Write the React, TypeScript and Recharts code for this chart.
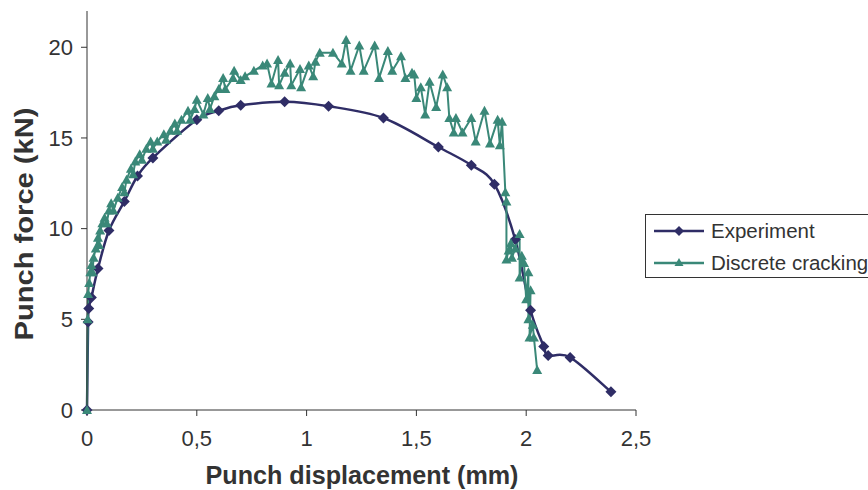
import React from 'react'
import { LineChart, Line, XAxis, YAxis } from 'recharts'

// --- Data ---

const experimentX = [0, 0.005, 0.008, 0.02, 0.05, 0.1, 0.17, 0.23, 0.3, 0.5, 0.6, 0.7, 0.9, 1.1, 1.35, 1.6, 1.75, 1.855, 1.95, 2.02, 2.08, 2.1, 2.2, 2.386]
const experimentY = [0, 4.85, 5.6, 6.2, 7.8, 9.9, 11.5, 12.9, 13.9, 16.0, 16.5, 16.8, 17.0, 16.75, 16.1, 14.5, 13.5, 12.45, 9.4, 5.5, 3.5, 3.0, 2.9, 1.0]

const crackingX = [
  0, 0.003, 0.005, 0.01, 0.015, 0.02, 0.025, 0.03, 0.04, 0.05, 0.055, 0.06, 0.07, 0.08, 0.09,
  0.1, 0.11, 0.12, 0.14, 0.16, 0.17, 0.18, 0.2, 0.21, 0.22, 0.24, 0.25, 0.27, 0.29, 0.3,
  0.32, 0.35, 0.36, 0.38, 0.4, 0.41, 0.43, 0.46, 0.47, 0.49, 0.5, 0.53, 0.55, 0.56, 0.58,
  0.6, 0.62, 0.63, 0.665, 0.67, 0.7, 0.72, 0.76, 0.8, 0.82, 0.84, 0.87, 0.875, 0.9, 0.925,
  0.93, 0.97, 0.975, 1.01, 1.03, 1.04, 1.06, 1.12, 1.16, 1.18, 1.2, 1.24, 1.26, 1.31, 1.33,
  1.37, 1.39, 1.43, 1.45, 1.48, 1.49, 1.5, 1.52, 1.54, 1.56, 1.59, 1.62, 1.64, 1.65, 1.67,
  1.68, 1.71, 1.75, 1.77, 1.81, 1.835, 1.87, 1.88, 1.89, 1.905, 1.91, 1.91, 1.92, 1.93, 1.935,
  1.95, 1.97, 1.97, 1.98, 1.99, 2.0, 2.01, 2.01, 2.02, 2.015, 2.03, 2.035, 2.05,
]
const crackingY = [
  0, 5.0, 6.4, 7.0, 7.6, 8.0, 7.6, 8.4, 8.9, 9.5, 9.1, 9.9, 10.3, 10.6, 10.3,
  11.0, 11.4, 11.0, 11.7, 12.3, 12.0, 12.7, 13.3, 13.0, 13.7, 14.1, 13.8, 14.4, 14.8, 14.4,
  14.8, 15.2, 14.9, 15.4, 15.8, 15.4, 16.0, 16.5, 16.0, 16.6, 17.1, 16.3, 17.2, 16.6, 17.3,
  17.7, 18.3, 17.7, 18.3, 18.7, 18.2, 18.4, 18.7, 19.0, 19.1, 18.0, 19.3, 17.9, 18.6, 19.1,
  17.9, 18.8, 17.8, 19.0, 18.4, 19.2, 19.7, 19.7, 19.1, 20.4, 18.7, 20.1, 18.7, 20.1, 18.3,
  19.8, 18.7, 19.5, 18.3, 18.6, 18.5, 17.2, 17.8, 16.3, 18.1, 16.7, 18.5, 17.8, 16.1, 15.3,
  16.1, 15.3, 16.1, 14.8, 16.5, 14.7, 16.0, 14.6, 15.9, 12.0, 11.5, 8.3, 8.8, 9.2, 8.4,
  8.9, 9.7, 7.3, 8.5, 8.1, 6.1, 7.6, 5.0, 6.6, 4.0, 4.7, 4.0, 2.2,
]

const xTicks = [0, 0.5, 1, 1.5, 2, 2.5]
const yTicks = [0, 5, 10, 15, 20]

const experimentData = experimentX.map((x, i) => ({ x, y: experimentY[i] }))
const crackingData = crackingX.map((x, i) => ({ x, y: crackingY[i] }))

const NAVY = '#2f2d66'
const GREEN = '#3a8878'
const FONT = '"Liberation Sans", Arial, sans-serif'

// Catmull-Rom style smoothing, close to a spreadsheet "smoothed line"
function smoothCurve(context: any) {
  let pts: [number, number][] = []
  return {
    areaStart() {},
    areaEnd() {},
    lineStart() { pts = [] },
    point(x: number, y: number) { pts.push([x, y]) },
    lineEnd() {
      if (!pts.length) return
      context.moveTo(pts[0][0], pts[0][1])
      for (let i = 0; i < pts.length - 1; i++) {
        const p0 = pts[i - 1] || pts[i]
        const p1 = pts[i]
        const p2 = pts[i + 1]
        const p3 = pts[i + 2] || p2
        context.bezierCurveTo(
          p1[0] + (p2[0] - p0[0]) / 6, p1[1] + (p2[1] - p0[1]) / 6,
          p2[0] - (p3[0] - p1[0]) / 6, p2[1] - (p3[1] - p1[1]) / 6,
          p2[0], p2[1],
        )
      }
    },
  }
}

// --- Markers ---

function Diamond(props: any) {
  const { cx, cy } = props
  if (cx == null || cy == null) return null
  const r = 5.5
  return <polygon points={`${cx},${cy - r} ${cx + r},${cy} ${cx},${cy + r} ${cx - r},${cy}`} fill={NAVY} />
}

function Triangle(props: any) {
  const { cx, cy } = props
  if (cx == null || cy == null) return null
  const r = 5
  return <polygon points={`${cx},${cy - r} ${cx + r},${cy + r * 0.8} ${cx - r},${cy + r * 0.8}`} fill={GREEN} />
}

function LegendRow({ color, marker, label }: { color: string; marker: 'diamond' | 'triangle'; label: string }) {
  return (
    <div style={{ display: 'flex', alignItems: 'center', height: 32 }}>
      <svg width={52} height={14} style={{ marginRight: 6 }}>
        <line x1={1} y1={7} x2={51} y2={7} stroke={color} strokeWidth={2.5} />
        {marker === 'diamond'
          ? <polygon points="26,2 31,7 26,12 21,7" fill={color} />
          : <polygon points="26,2 30.5,10 21.5,10" fill={color} />}
      </svg>
      <span>{label}</span>
    </div>
  )
}

export default function App() {
  return (
    <div style={{ position: 'relative', width: 868, height: 490, background: '#fff', fontFamily: FONT }}>
      <style>{'body{margin:0}'}</style>
      <LineChart width={868} height={490} margin={{ top: 11, right: 232, left: 0, bottom: 0 }}>
        <XAxis
          type="number"
          dataKey="x"
          domain={[0, 2.5]}
          ticks={xTicks}
          tickFormatter={(v: number) => String(v).replace('.', ',')}
          height={80}
          stroke="#333"
          tickSize={6}
          tickMargin={14}
          tick={{ fontSize: 22, fill: '#333', fontFamily: FONT }}
          label={{
            content: () => (
              <text x={362} y={484} textAnchor="middle" fontSize={25} fontWeight="bold" fill="#333" fontFamily={FONT}
                textLength={313} lengthAdjust="spacingAndGlyphs">
                Punch displacement (mm)
              </text>
            ),
          }}
        />
        <YAxis
          type="number"
          dataKey="y"
          domain={[0, 22]}
          ticks={yTicks}
          width={87}
          stroke="#333"
          tickSize={6}
          tickMargin={8}
          tick={{ fontSize: 22, fill: '#333', fontFamily: FONT }}
          label={{
            content: () => (
              <text x={33} y={224} textAnchor="middle" fontSize={26} fontWeight="bold" fill="#333" fontFamily={FONT}
                textLength={233} lengthAdjust="spacingAndGlyphs" transform="rotate(-90 33 224)">
                Punch force (kN)
              </text>
            ),
          }}
        />
        <Line
          data={experimentData}
          dataKey="y"
          type={smoothCurve as any}
          stroke={NAVY}
          strokeWidth={2.5}
          dot={<Diamond />}
          isAnimationActive={false}
        />
        <Line
          data={crackingData}
          dataKey="y"
          type="linear"
          stroke={GREEN}
          strokeWidth={2}
          dot={<Triangle />}
          isAnimationActive={false}
        />
      </LineChart>
      <div
        style={{
          position: 'absolute',
          left: 645,
          top: 214,
          width: 240,
          height: 64,
          border: '1px solid #333',
          boxSizing: 'border-box',
          padding: '0 0 0 7px',
          fontSize: 20.5,
          color: '#333',
          overflow: 'hidden',
        }}
      >
        <LegendRow color={NAVY} marker="diamond" label="Experiment" />
        <LegendRow color={GREEN} marker="triangle" label="Discrete cracking" />
      </div>
    </div>
  )
}
